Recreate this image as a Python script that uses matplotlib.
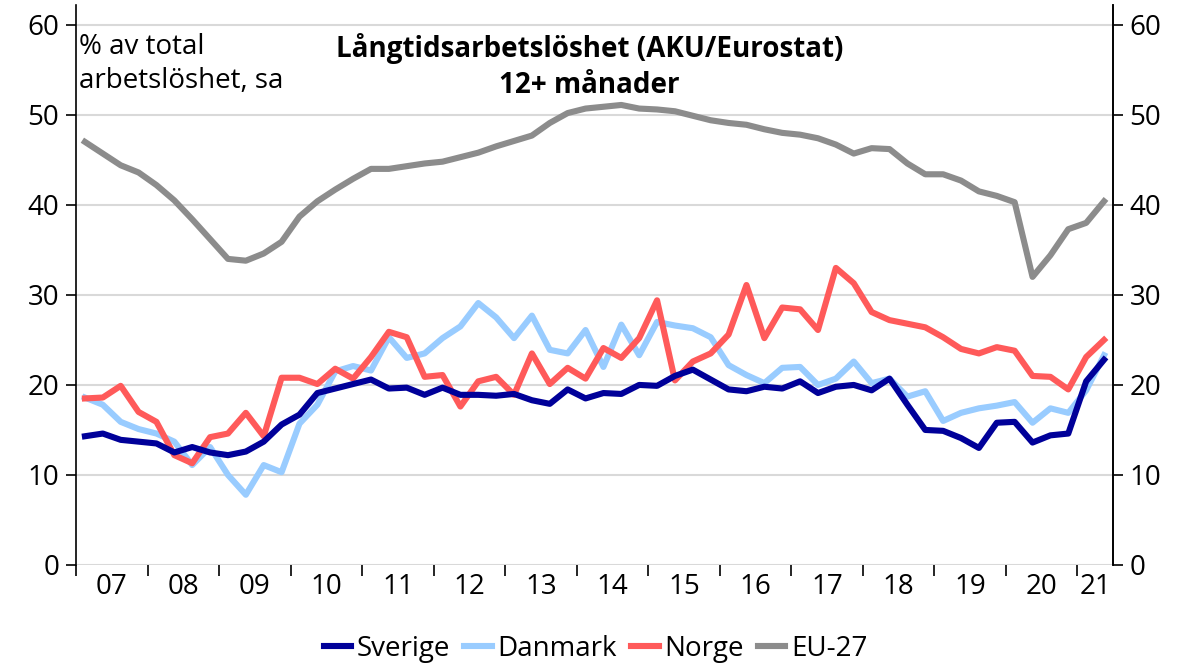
import matplotlib
matplotlib.use("Agg")
import matplotlib.pyplot as plt
import pandas as pd

plt.rcParams['font.family'] = ['Open Sans', 'DejaVu Sans']

# kvartal 2007Q1 - 2021Q2
quarters = pd.period_range('2007Q1', '2021Q2', freq='Q')

sverige = [14.3, 14.6, 13.9, 13.7, 13.5, 12.5, 13.1, 12.5, 12.2, 12.6,
           13.7, 15.6, 16.7, 19.1, 19.6, 20.1, 20.6, 19.6, 19.7, 18.9,
           19.7, 18.9, 18.9, 18.8, 19.0, 18.3, 17.9, 19.5, 18.5, 19.1,
           19.0, 20.0, 19.9, 21.0, 21.7, 20.6, 19.5, 19.3, 19.8, 19.6,
           20.4, 19.1, 19.8, 20.0, 19.4, 20.7, 17.8, 15.0, 14.9, 14.1,
           13.0, 15.8, 15.9, 13.6, 14.4, 14.6, 20.4, 22.8]

danmark = [18.6, 17.8, 15.9, 15.1, 14.6, 13.7, 11.1, 13.1, 10.0, 7.8,
           11.1, 10.3, 15.7, 17.8, 21.5, 22.1, 21.6, 25.3, 23.0, 23.5,
           25.2, 26.5, 29.1, 27.5, 25.2, 27.7, 23.9, 23.5, 26.1, 22.0,
           26.7, 23.3, 27.0, 26.6, 26.3, 25.3, 22.2, 21.1, 20.2, 21.9,
           22.0, 20.0, 20.7, 22.6, 20.2, 20.7, 18.7, 19.3, 16.0, 16.9,
           17.4, 17.7, 18.1, 15.8, 17.4, 16.9, 19.4, 23.3]

norge = [18.5, 18.6, 19.9, 17.0, 15.9, 12.2, 11.3, 14.2, 14.6, 16.9,
         14.3, 20.8, 20.8, 20.1, 21.8, 20.7, 23.1, 25.9, 25.3, 20.9,
         21.1, 17.6, 20.4, 20.9, 18.9, 23.5, 20.1, 21.9, 20.7, 24.1,
         23.0, 25.2, 29.4, 20.5, 22.6, 23.5, 25.6, 31.1, 25.2, 28.6,
         28.4, 26.1, 33.0, 31.3, 28.1, 27.2, 26.8, 26.4, 25.3, 24.0,
         23.5, 24.2, 23.8, 21.0, 20.9, 19.5, 23.1, 25.0]

eu27 = [47.0, 45.7, 44.4, 43.6, 42.2, 40.5, 38.4, 36.2, 34.0, 33.8,
        34.6, 35.9, 38.7, 40.4, 41.7, 42.9, 44.0, 44.0, 44.3, 44.6,
        44.8, 45.3, 45.8, 46.5, 47.1, 47.7, 49.1, 50.2, 50.7, 50.9,
        51.1, 50.7, 50.6, 50.4, 49.9, 49.4, 49.1, 48.9, 48.4, 48.0,
        47.8, 47.4, 46.7, 45.7, 46.3, 46.2, 44.6, 43.4, 43.4, 42.7,
        41.5, 41.0, 40.3, 32.0, 34.4, 37.3, 38.0, 40.4]

year_labels = ['07', '08', '09', '10', '11', '12', '13', '14', '15', '16',
               '17', '18', '19', '20', '21']

# x-position: mitten av varje kvartal
x = quarters.year + (quarters.quarter - 0.5) / 4

fig = plt.figure(figsize=(11.91, 6.71), dpi=100)
ax = fig.add_axes([0.0638, 0.158, 0.8707, 0.8345])

for y in range(0, 70, 10):
    ax.axhline(y, color='#D9D9D9', lw=1.5, zorder=0)

ax.plot(x, sverige, color='#000099', lw=4.4, label='Sverige', zorder=4)
ax.plot(x, danmark, color='#99CCFF', lw=4.4, label='Danmark', zorder=2)
ax.plot(x, norge, color='#FF5A5A', lw=4.4, label='Norge', zorder=3)
ax.plot(x, eu27, color='#8C8C8C', lw=4.4, label='EU-27', zorder=2)

ax.set_xlim(2007, 2021.5)
ax.set_ylim(0, 62.2)
ax.set_yticks(range(0, 70, 10))
ax.tick_params(axis='y', labelsize=20, length=7, width=1.2, pad=5)

# årsgränser som tickmarkeringar, etiketter mitt i året
ax.set_xticks(range(2007, 2022))
ax.set_xticklabels([])
ax.tick_params(axis='x', length=8, width=1.2, direction='out')
label_pos = [yr + 0.5 for yr in range(2007, 2021)] + [2021.25]
ax.set_xticks(label_pos, minor=True)
ax.set_xticklabels(year_labels, minor=True)
ax.tick_params(axis='x', which='minor', length=0, labelsize=20, pad=6)

ax.spines['top'].set_visible(False)
ax.spines['bottom'].set_visible(False)
ax.spines['left'].set_linewidth(1.2)
ax.spines['right'].set_linewidth(1.2)

ax2 = ax.twinx()
ax2.set_ylim(ax.get_ylim())
ax2.set_yticks(range(0, 70, 10))
ax2.tick_params(axis='y', labelsize=20, length=7, width=1.2, pad=5)
for s in ['top', 'left', 'bottom']:
    ax2.spines[s].set_visible(False)
ax2.spines['right'].set_linewidth(1.2)

ax.text(0.003, 0.95, '% av total\narbetslöshet, sa', transform=ax.transAxes,
        fontsize=20, va='top', ha='left', linespacing=1.3)
ax.text(0.495, 0.95, 'Långtidsarbetslöshet (AKU/Eurostat)\n12+ månader',
        transform=ax.transAxes, fontsize=20, fontweight='bold',
        va='top', ha='center', linespacing=1.3)

fig.legend(loc='lower center', bbox_to_anchor=(0.5, -0.025), ncol=4,
           frameon=False, fontsize=20, handlelength=1.0, handletextpad=0.2,
           columnspacing=0.5)

fig.savefig('out.png', dpi=100)
